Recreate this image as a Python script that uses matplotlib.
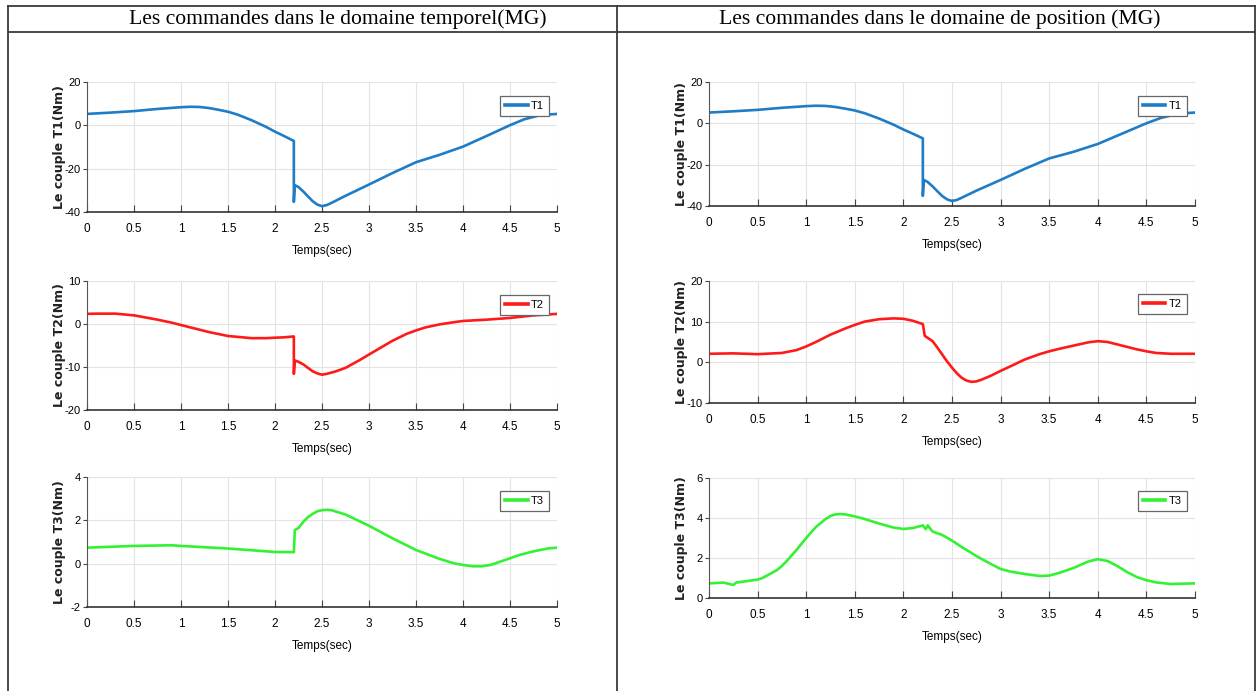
import matplotlib
matplotlib.use('Agg')
import matplotlib.pyplot as plt
from matplotlib.lines import Line2D

# commandes dans le domaine temporel (MG)
t_T1_temp = [0, 0.25, 0.5, 0.75, 1.0, 1.1, 1.2, 1.3, 1.4, 1.5, 1.6, 1.75, 1.9, 2.0, 2.1, 2.2,
             2.2, 2.21, 2.25, 2.3, 2.35, 2.4, 2.45, 2.5, 2.55, 2.6, 2.75, 3.0, 3.25, 3.5,
             3.75, 4.0, 4.25, 4.5, 4.65, 4.8, 4.9, 5.0]
T1_temp = [5.3, 5.9, 6.6, 7.6, 8.4, 8.6, 8.5, 8.0, 7.2, 6.3, 5.0, 2.4, -0.6, -2.9, -5.0, -7.2,
           -35.3, -27.6, -28.5, -30.5, -32.8, -35.0, -36.6, -37.3, -36.8, -35.8, -32.5, -27.3,
           -22.0, -17.0, -13.6, -9.8, -4.9, 0.1, 2.8, 4.5, 5.0, 5.3]

t_T2_temp = [0, 0.1, 0.3, 0.5, 0.6, 0.75, 0.9, 1.0, 1.1, 1.3, 1.5, 1.6, 1.75, 1.9, 2.0, 2.1,
             2.2, 2.2, 2.21, 2.25, 2.3, 2.35, 2.4, 2.45, 2.5, 2.55, 2.65, 2.75, 2.9, 3.0,
             3.25, 3.4, 3.5, 3.6, 3.75, 3.9, 4.0, 4.25, 4.5, 4.75, 5.0]
T2_temp = [2.35, 2.4, 2.4, 2.0, 1.6, 1.0, 0.3, -0.25, -0.8, -1.9, -2.8, -3.0, -3.3, -3.3,
           -3.2, -3.1, -2.9, -11.6, -8.5, -8.8, -9.4, -10.2, -11.0, -11.5, -11.8, -11.6,
           -11.0, -10.2, -8.4, -7.1, -3.9, -2.3, -1.5, -0.8, -0.1, 0.4, 0.7, 1.0, 1.4, 2.0, 2.35]

t_T3_temp = [0, 0.5, 0.9, 1.0, 1.5, 2.0, 2.2, 2.2, 2.21, 2.25, 2.3, 2.35, 2.4, 2.45, 2.5,
             2.55, 2.6, 2.75, 3.0, 3.25, 3.5, 3.75, 3.9, 4.0, 4.1, 4.2, 4.3, 4.4, 4.5,
             4.6, 4.75, 4.9, 5.0]
T3_temp = [0.74, 0.82, 0.85, 0.82, 0.7, 0.54, 0.53, 0.53, 1.55, 1.65, 1.93, 2.15, 2.3,
           2.42, 2.47, 2.49, 2.47, 2.27, 1.75, 1.17, 0.63, 0.22, 0.02, -0.06, -0.12, -0.12,
           -0.05, 0.1, 0.25, 0.4, 0.57, 0.7, 0.74]

# commandes dans le domaine de position (MG)
t_T1_pos = [0, 0.25, 0.5, 0.75, 1.0, 1.1, 1.2, 1.3, 1.4, 1.5, 1.6, 1.75, 1.9, 2.0, 2.1, 2.2,
            2.2, 2.21, 2.25, 2.3, 2.35, 2.4, 2.45, 2.5, 2.55, 2.6, 2.75, 3.0, 3.25, 3.5,
            3.75, 4.0, 4.25, 4.5, 4.65, 4.8, 4.9, 5.0]
T1_pos = [5.2, 5.8, 6.5, 7.5, 8.3, 8.5, 8.4, 7.9, 7.1, 6.2, 4.9, 2.3, -0.7, -3.0, -5.1, -7.3,
          -35.1, -27.4, -28.4, -30.5, -32.9, -35.2, -36.8, -37.6, -37.1, -36.0, -32.6, -27.4,
          -22.0, -17.0, -13.8, -10.0, -5.0, 0.0, 2.6, 4.3, 4.9, 5.2]

t_T2_pos = [0, 0.25, 0.5, 0.75, 0.9, 1.0, 1.1, 1.25, 1.4, 1.5, 1.6, 1.75, 1.9, 2.0, 2.1,
            2.2, 2.22, 2.3, 2.35, 2.4, 2.45, 2.5, 2.55, 2.6, 2.65, 2.7, 2.75, 2.8, 2.9,
            3.0, 3.1, 3.25, 3.4, 3.5, 3.6, 3.75, 3.9, 4.0, 4.1, 4.25, 4.4, 4.5, 4.6,
            4.75, 5.0]
T2_pos = [2.1, 2.2, 2.0, 2.3, 3.0, 3.9, 5.0, 6.8, 8.3, 9.2, 10.0, 10.6, 10.8, 10.7, 10.2,
          9.4, 6.5, 5.2, 3.6, 1.9, 0.2, -1.3, -2.7, -3.8, -4.5, -4.8, -4.7, -4.3, -3.3,
          -2.1, -1.0, 0.7, 2.0, 2.7, 3.3, 4.1, 4.9, 5.2, 5.0, 4.1, 3.2, 2.7, 2.3, 2.1, 2.1]

t_T3_pos = [0, 0.15, 0.25, 0.28, 0.5, 0.55, 0.6, 0.7, 0.75, 0.8, 0.9, 1.0, 1.1, 1.2, 1.25,
            1.3, 1.35, 1.4, 1.5, 1.6, 1.75, 1.9, 2.0, 2.1, 2.2, 2.23, 2.25, 2.3, 2.4, 2.5,
            2.6, 2.75, 2.9, 3.0, 3.1, 3.25, 3.4, 3.5, 3.6, 3.75, 3.9, 4.0, 4.1, 4.2, 4.3,
            4.4, 4.5, 4.6, 4.75, 5.0]
T3_pos = [0.73, 0.77, 0.65, 0.77, 0.92, 1.0, 1.13, 1.4, 1.6, 1.85, 2.4, 3.0, 3.55, 3.95,
          4.1, 4.18, 4.2, 4.18, 4.08, 3.95, 3.72, 3.52, 3.45, 3.5, 3.63, 3.44, 3.63, 3.32,
          3.15, 2.87, 2.55, 2.1, 1.7, 1.45, 1.32, 1.2, 1.1, 1.12, 1.25, 1.5, 1.82, 1.94,
          1.85, 1.6, 1.3, 1.05, 0.89, 0.78, 0.7, 0.73]

x_ticks = [0, 0.5, 1, 1.5, 2, 2.5, 3, 3.5, 4, 4.5, 5]
x_tick_labels = ['0', '0.5', '1', '1.5', '2', '2.5', '3', '3.5', '4', '4.5', '5']

col_titles = ['Les commandes dans le domaine temporel(MG)',
              'Les commandes dans le domaine de position (MG)']

BLUE = '#1f7cc6'
RED = '#ff1a1a'
GREEN = '#33f233'
SANS = ['Liberation Sans', 'DejaVu Sans']

panels = [
    # (t, y, couleur, nom, yticks, [left, bottom, width, height])
    (t_T1_temp, T1_temp, BLUE, 'T1', [-40, -20, 0, 20], [0.0692, 0.6932, 0.3736, 0.188]),
    (t_T2_temp, T2_temp, RED, 'T2', [-20, -10, 0, 10], [0.0692, 0.4067, 0.3736, 0.1867]),
    (t_T3_temp, T3_temp, GREEN, 'T3', [-2, 0, 2, 4], [0.0692, 0.1216, 0.3736, 0.188]),
    (t_T1_pos, T1_pos, BLUE, 'T1', [-40, -20, 0, 20], [0.5636, 0.7019, 0.3863, 0.1795]),
    (t_T2_pos, T2_pos, RED, 'T2', [-10, 0, 10, 20], [0.5636, 0.4168, 0.3863, 0.1766]),
    (t_T3_pos, T3_pos, GREEN, 'T3', [0, 2, 4, 6], [0.5636, 0.1346, 0.3863, 0.1737]),
]

fig = plt.figure(figsize=(12.58, 6.91), dpi=100)

# cadre du tableau
tc = '#3a3a3a'
for xs, ys in [([8 / 1258, 1255 / 1258], [1 - 6 / 691, 1 - 6 / 691]),
               ([8 / 1258, 1255 / 1258], [1 - 31.5 / 691, 1 - 31.5 / 691]),
               ([8 / 1258, 8 / 1258], [0, 1 - 6 / 691]),
               ([617 / 1258, 617 / 1258], [0, 1 - 6 / 691]),
               ([1255 / 1258, 1255 / 1258], [0, 1 - 6 / 691])]:
    fig.add_artist(Line2D(xs, ys, color=tc, lw=1.3, transform=fig.transFigure))

fig.text(338 / 1258, 1 - 19 / 691, col_titles[0], ha='center', va='center',
         family='Liberation Serif', fontsize=15.6)
fig.text(940 / 1258, 1 - 19 / 691, col_titles[1], ha='center', va='center',
         family='Liberation Serif', fontsize=15.6)

for t, y, color, name, yt, rect in panels:
    ax = fig.add_axes(rect)
    ax.plot(t, y, color=color, lw=1.9, label=name)
    ax.set_xlim(0, 5)
    ax.set_ylim(yt[0], yt[-1])
    ax.set_xticks(x_ticks)
    ax.set_xticklabels(x_tick_labels, family=SANS, fontsize=8.5)
    ax.set_yticks(yt)
    ax.set_yticklabels([str(v) for v in yt], family=SANS, fontsize=8)
    ax.grid(True, color='#e3e3e3', lw=0.8)
    ax.set_axisbelow(True)
    for s in ['top', 'right']:
        ax.spines[s].set_visible(False)
    ax.spines['left'].set_color('#555555')
    ax.spines['bottom'].set_color('#333333')
    ax.spines['bottom'].set_linewidth(1.2)
    ax.tick_params(axis='x', direction='in', length=5, width=0.8, color='#444444', pad=8)
    ax.tick_params(axis='y', direction='out', length=3, width=0.8, color='#444444', pad=1.5)
    ax.set_xlabel('Temps(sec)', family=SANS, fontsize=8.5, labelpad=7)
    ax.set_ylabel(f'Le couple {name}(Nm)', family='DejaVu Sans', fontsize=9,
                  fontweight='bold', color='#222222')
    # étiquette y rapprochée de l'axe, juste à gauche des graduations
    ax.yaxis.set_label_coords(-21 / (rect[2] * 1258), 0.5)
    leg = ax.legend(loc='upper right', bbox_to_anchor=(0.983, 0.89),
                    prop={'family': SANS, 'size': 8}, handlelength=2.0,
                    handletextpad=0.3, borderpad=0.45, fancybox=False,
                    framealpha=1, edgecolor='#666666', borderaxespad=0)
    leg.get_frame().set_linewidth(0.9)
    for h in leg.get_lines():
        h.set_linewidth(2.6)

fig.savefig('out.png', dpi=100, facecolor='white')
